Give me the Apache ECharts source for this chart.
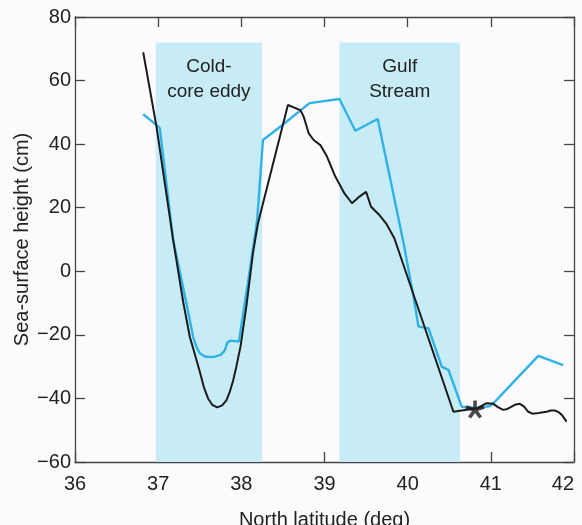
<!DOCTYPE html>
<html>
<head>
<meta charset="utf-8">
<script src="https://cdn.jsdelivr.net/npm/echarts@6/dist/echarts.min.js"></script>
<style>
  html, body { margin: 0; padding: 0; background: #fcfafd; }
  #chart { width: 582px; height: 525px; }
</style>
</head>
<body>
<div id="chart"></div>
<script>
// altimeter track (black) vs. in situ section (blue), sea-surface height in cm
const altimeter = [
  [36.82, 68.9], [36.98, 45.5], [37.18, 9.9], [37.30, -9.5], [37.38, -20.6],
  [37.44, -26.0], [37.50, -31.5], [37.55, -36.5], [37.60, -40.0], [37.65, -42.0],
  [37.71, -42.8], [37.77, -42.2], [37.82, -40.6], [37.86, -38.0], [37.90, -34.5],
  [37.94, -30.0], [37.99, -23.7], [38.06, -11.1], [38.14, 5.7], [38.20, 15.1],
  [38.56, 52.3], [38.71, 50.7], [38.75, 48.6], [38.81, 43.4], [38.87, 41.3],
  [38.95, 39.7], [39.03, 36.1], [39.13, 29.8], [39.24, 24.5], [39.33, 21.4],
  [39.42, 23.5], [39.50, 25.0], [39.56, 20.3], [39.66, 17.7], [39.74, 15.1],
  [39.84, 10.4], [40.55, -44.2], [40.83, -43.1], [40.95, -41.5], [41.03, -41.7],
  [41.09, -42.8], [41.15, -43.6], [41.20, -43.3], [41.25, -42.6], [41.30, -41.9],
  [41.35, -41.7], [41.40, -42.6], [41.45, -44.2], [41.50, -44.8], [41.55, -44.7],
  [41.61, -44.4], [41.67, -44.2], [41.72, -43.8], [41.77, -43.8], [41.82, -44.4],
  [41.86, -45.4], [41.91, -47.3]
]
const inSitu = [
  [36.82, 49.4], [36.98, 46.0], [37.02, 45.0], [37.18, 9.9], [37.34, -10.1],
  [37.42, -20.6], [37.46, -23.8], [37.50, -25.8], [37.56, -26.8], [37.63, -27.0],
  [37.69, -26.8], [37.75, -26.3], [37.79, -25.3], [37.81, -24.2], [37.83, -22.5],
  [37.87, -21.8], [37.97, -22.1], [38.07, -5.2], [38.19, 16.1], [38.26, 41.3],
  [38.46, 45.3], [38.82, 52.9], [39.18, 54.2], [39.37, 44.2], [39.64, 47.9],
  [39.95, 9.0], [40.07, -8.0], [40.13, -17.4], [40.25, -17.9], [40.41, -30.0],
  [40.49, -31.0], [40.65, -42.6], [40.83, -43.1], [40.99, -42.4], [41.05, -41.0],
  [41.57, -26.6], [41.87, -29.5]
]
const crossover = [[40.81, -43.5]]
const bands = [
  { name: 'Cold-\ncore eddy', from: 36.97, to: 38.25 },
  { name: 'Gulf\nStream', from: 39.18, to: 40.63 }
]
const bandTop = 72
const xTicks = { min: 36, max: 42, step: 1 }
const yTicks = { min: -60, max: 80, step: 20 }

const font = 'Liberation Sans, Arial, Helvetica, sans-serif'
const ink = '#222'

// five-armed asterisk as a filled path
function asterisk() {
  const L = 10, w = 1.9
  let p = ''
  for (const deg of [-90, -18, 54, 126, 198]) {
    const a = deg * Math.PI / 180
    const dx = Math.cos(a), dy = Math.sin(a), nx = -dy, ny = dx
    const pts = [[w * nx, w * ny], [L * dx + w * nx, L * dy + w * ny],
                 [L * dx - w * nx, L * dy - w * ny], [-w * nx, -w * ny]]
    p += 'M' + pts.map(q => q[0].toFixed(2) + ',' + q[1].toFixed(2)).join('L') + 'Z'
  }
  return 'path://' + p
}

const chart = echarts.init(document.getElementById('chart'))
const axisCommon = {
  type: 'value',
  axisLine: { show: true, onZero: false, lineStyle: { color: '#444', width: 1.3 } },
  axisTick: { show: true, inside: true, length: 10, lineStyle: { color: '#444', width: 1.3 } },
  splitLine: { show: false }
}
chart.setOption({
  backgroundColor: '#fcfafd',
  animation: false,
  textStyle: { fontFamily: font },
  grid: { left: 75, right: 8, top: 17, bottom: 63, containLabel: false, outerBoundsMode: 'none' },
  xAxis: [
    Object.assign({}, axisCommon, {
      min: xTicks.min, max: xTicks.max, interval: xTicks.step,
      name: 'North latitude (deg)', nameLocation: 'middle', nameGap: 48,
      nameMoveOverlap: false,
      nameTextStyle: { color: ink, fontSize: 20, fontFamily: font },
      axisLabel: { color: ink, fontSize: 20, margin: 12, fontFamily: font, alignMaxLabel: 'right' }
    }),
    Object.assign({}, axisCommon, {
      position: 'top', min: xTicks.min, max: xTicks.max, interval: xTicks.step,
      axisLabel: { show: false }
    })
  ],
  yAxis: [
    Object.assign({}, axisCommon, {
      min: yTicks.min, max: yTicks.max, interval: yTicks.step,
      name: 'Sea-surface height (cm)', nameLocation: 'middle', nameGap: 43,
      nameMoveOverlap: false,
      nameTextStyle: { color: ink, fontSize: 20, fontFamily: font },
      axisLabel: { color: ink, fontSize: 20, margin: 4, fontFamily: font,
        formatter: v => String(v).replace('-', '\u2212') }
    }),
    Object.assign({}, axisCommon, {
      position: 'right', min: yTicks.min, max: yTicks.max, interval: yTicks.step,
      axisLabel: { show: false }
    })
  ],
  series: [
    {
      type: 'line', name: 'bands', data: [], silent: true,
      markArea: {
        silent: true,
        itemStyle: { color: '#c8ecf5' },
        label: {
          position: 'insideTop', distance: 12, color: ink, fontSize: 19,
          lineHeight: 25, fontFamily: font, align: 'center'
        },
        data: bands.map(b => [
          { name: b.name, xAxis: b.from, yAxis: yTicks.min },
          { xAxis: b.to, yAxis: bandTop }
        ])
      }
    },
    {
      type: 'line', name: 'in situ', data: inSitu, showSymbol: false,
      lineStyle: { color: '#2fb3e6', width: 2.4 }, z: 3
    },
    {
      type: 'line', name: 'altimeter', data: altimeter, showSymbol: false,
      lineStyle: { color: '#1b1b1b', width: 2 }, z: 4
    },
    {
      type: 'scatter', name: 'crossover', data: crossover,
      symbol: asterisk(), symbolSize: 19, symbolKeepAspect: true,
      itemStyle: { color: '#1b1b1b' }, z: 5
    }
  ]
})
</script>
</body>
</html>
